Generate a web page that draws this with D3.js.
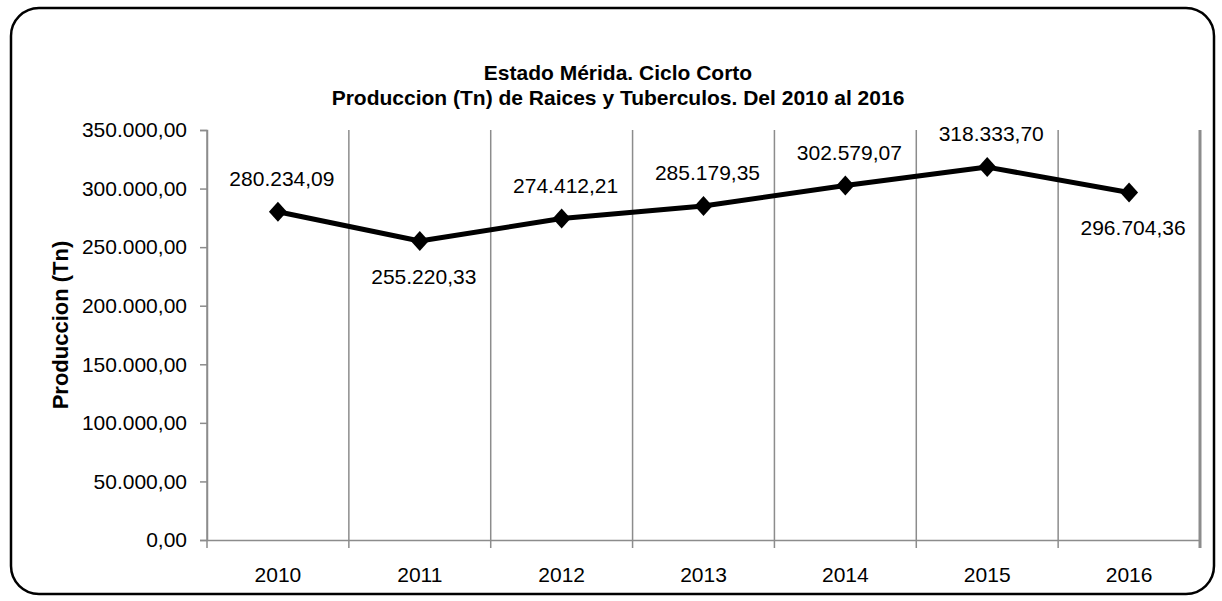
<!DOCTYPE html>
<html>
<head>
<meta charset="utf-8">
<script src="https://cdn.jsdelivr.net/npm/d3@7"></script>
<style>
  body { margin: 0; background: #fff; }
  text { font-family: "Liberation Sans", Arial, sans-serif; fill: #000; }
</style>
</head>
<body>
<script>
// chart data
var years = ["2010", "2011", "2012", "2013", "2014", "2015", "2016"];
var production = [280234.09, 255220.33, 274412.21, 285179.35, 302579.07, 318333.70, 296704.36];
var labelSide = ["above", "below", "above", "above", "above", "above", "below"];
var yTicks = [0, 50000, 100000, 150000, 200000, 250000, 300000, 350000];

var svgWidth = 1222;
var svgHeight = 601;
var margin = { top: 130, right: 22, bottom: 61, left: 207 };
var chartWidth = svgWidth - margin.left - margin.right;
var chartHeight = svgHeight - margin.top - margin.bottom;

var locale = d3.formatLocale({ decimal: ",", thousands: ".", grouping: [3], currency: ["", ""] });
var fmt = locale.format(",.2f");

var svg = d3.select("body").append("svg")
    .attr("width", svgWidth)
    .attr("height", svgHeight);

// outer frame
svg.append("rect")
    .attr("x", 11).attr("y", 8)
    .attr("width", 1203).attr("height", 586)
    .attr("rx", 28).attr("ry", 28)
    .attr("fill", "#fff")
    .attr("stroke", "#000")
    .attr("stroke-width", 2.5);

// title
svg.append("text")
    .attr("x", 618).attr("y", 80)
    .attr("text-anchor", "middle")
    .attr("font-weight", "bold")
    .attr("font-size", 21)
    .text("Estado Mérida. Ciclo Corto");
svg.append("text")
    .attr("x", 618).attr("y", 105)
    .attr("text-anchor", "middle")
    .attr("font-weight", "bold")
    .attr("font-size", 21)
    .text("Produccion (Tn) de Raices y Tuberculos. Del 2010 al 2016");

var chartGroup = svg.append("g")
    .attr("transform", `translate(${margin.left}, ${margin.top})`);

var xScale = d3.scaleBand()
    .domain(years)
    .range([0, chartWidth]);

var yScale = d3.scaleLinear()
    .domain([0, 350000])
    .range([chartHeight, 0]);

// vertical gridlines on category boundaries
var bounds = years.map(d => xScale(d)).concat([chartWidth]);
chartGroup.selectAll(".vgrid")
    .data(bounds)
    .enter()
    .append("line")
    .attr("x1", d => d).attr("x2", d => d)
    .attr("y1", 0).attr("y2", chartHeight + 8)
    .attr("stroke", "#8c8c8c")
    .attr("stroke-width", (d, i) => i === bounds.length - 1 ? 3 : 1.5);

// y axis
var leftAxis = d3.axisLeft(yScale)
    .tickValues(yTicks)
    .tickSize(7)
    .tickPadding(13)
    .tickFormat(fmt);
var yAxisG = chartGroup.append("g").call(leftAxis);
yAxisG.select(".domain").attr("stroke", "#8c8c8c").attr("stroke-width", 1.5);
yAxisG.selectAll(".tick line").attr("stroke", "#8c8c8c").attr("stroke-width", 1.5);
yAxisG.selectAll("text").attr("font-size", 21).attr("font-family", "Liberation Sans, Arial, sans-serif").attr("fill", "#000");

// x axis
var bottomAxis = d3.axisBottom(xScale).tickSize(0).tickPadding(27);
var xAxisG = chartGroup.append("g")
    .attr("transform", `translate(0, ${chartHeight})`)
    .call(bottomAxis);
xAxisG.select(".domain").attr("stroke", "#8c8c8c").attr("stroke-width", 1.5);
xAxisG.selectAll("text").attr("font-size", 21).attr("font-family", "Liberation Sans, Arial, sans-serif").attr("fill", "#000");

// y label
svg.append("text")
    .attr("transform", "translate(68, 325) rotate(-90)")
    .attr("text-anchor", "middle")
    .attr("font-weight", "bold")
    .attr("font-size", 22)
    .text("Produccion (Tn)");

// line
var cx = d => xScale(d) + xScale.bandwidth() / 2;
var pts = years.map((y, i) => [cx(y), yScale(production[i])]);

chartGroup.append("path")
    .attr("d", d3.line()(pts))
    .attr("fill", "none")
    .attr("stroke", "#000")
    .attr("stroke-width", 5)
    .attr("stroke-linejoin", "round");

chartGroup.selectAll(".marker")
    .data(pts)
    .enter()
    .append("path")
    .attr("transform", d => `translate(${d[0]}, ${d[1]})`)
    .attr("d", "M0,-10L9,0L0,10L-9,0Z")
    .attr("fill", "#000");

// data labels
chartGroup.selectAll(".dlabel")
    .data(pts)
    .enter()
    .append("text")
    .attr("x", d => d[0] + 4)
    .attr("y", (d, i) => labelSide[i] === "above" ? d[1] - 26 : d[1] + 43)
    .attr("text-anchor", "middle")
    .attr("font-size", 21)
    .text((d, i) => fmt(production[i]));
</script>
</body>
</html>
